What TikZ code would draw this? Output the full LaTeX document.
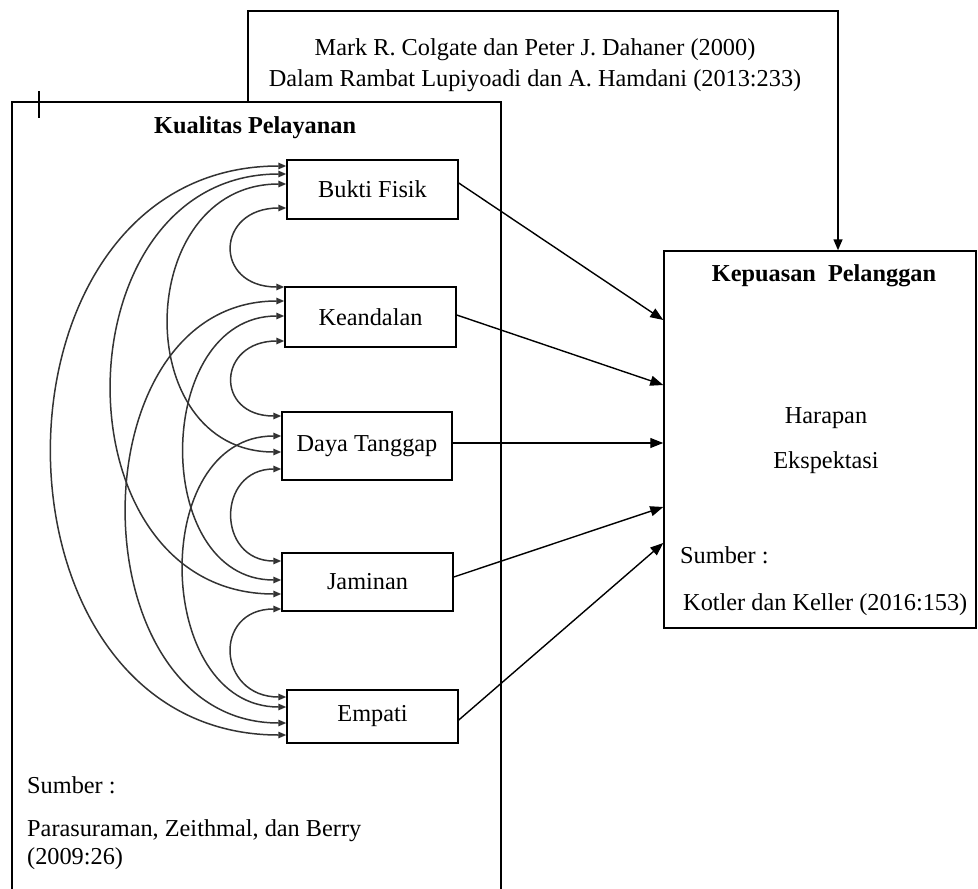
\documentclass[tikz,border=0pt]{standalone}
\usepackage{fontspec}
\setmainfont{Liberation Serif}
\usetikzlibrary{arrows.meta,calc}
\tikzset{
  box/.style={draw, line width=1.5pt, inner sep=0pt, font=\fontsize{24.3}{29}\selectfont},
  txt/.style={inner sep=0pt, font=\fontsize{24.3}{29}\selectfont},
  btxt/.style={inner sep=0pt, font=\fontsize{24.3}{29}\selectfont\bfseries},
  frame/.style={line width=1.5pt},
  arcline/.style={line width=1.5pt, black!80, {Triangle[length=8pt,width=6.5pt]}-{Triangle[length=8pt,width=6.5pt]}},
  infl/.style={line width=1.4pt, -{Triangle[length=13pt,width=10pt]}},
}
\newcommand{\twoarc}[5]{\draw[arcline] ([yshift=#2pt]#1.west) .. controls +(-#5,0) and +(-#5,0) .. ([yshift=#4pt]#3.west);}
\begin{document}
\begin{tikzpicture}[x=1pt,y=-1pt]
\useasboundingbox (0,0) rectangle (978,889);

% left frame
\coordinate (lbl) at (12,889);
\coordinate (ltl) at (12,102);
\coordinate (ltr) at (501,102);
\coordinate (lbr) at (501,889);
\draw[frame] (lbl) -- (ltl) -- (ltr) -- (lbr);
\coordinate (tk1) at (39,91);
\coordinate (tk2) at (39,118);
\draw[frame] (tk1) -- (tk2);

% right box
\node[box, minimum width=312pt, minimum height=377pt] (kp) at (820,439.5) {};

% top frame with arrow
\coordinate (tbl) at (248,102);
\coordinate (ttl) at (248,11);
\coordinate (ttr) at (838,11);
\draw[frame, -{Triangle[length=11pt,width=9pt]}] (tbl) -- (ttl) -- (ttr) -- (ttr |- kp.north);

% top texts
\node[txt, anchor=base] (src1) at (535,55) {Mark R. Colgate dan Peter J. Dahaner (2000)};
\node[txt, anchor=base] (src2) at (535,86) {Dalam Rambat Lupiyoadi dan A. Hamdani (2013:233)};

% left box texts
\node[btxt, anchor=base west] (kq) at (154,133) {Kualitas Pelayanan};
\node[txt, anchor=base west] (sb1) at (27,793) {Sumber :};
\node[txt, anchor=base west] (sb2) at (27,836) {Parasuraman,\ Zeithmal,\ dan Berry};
\node[txt, anchor=base west] (sb3) at (27,864) {(2009:26)};

% right box texts
\node[btxt, anchor=base] (kpt) at (824,281) {Kepuasan\ \ Pelanggan};
\node[txt, anchor=base] (hr) at (826,423) {Harapan};
\node[txt, anchor=base] (ek) at (826,468) {Ekspektasi};
\node[txt, anchor=base west] (sb4) at (680,563) {Sumber :};
\node[txt, anchor=base west] (sb5) at (683,610) {Kotler dan Keller (2016:153)};

% dimension boxes
\node[box, minimum width=171pt, minimum height=59pt] (bf) at (372.5,189.5) {Bukti Fisik};
\node[box, minimum width=171pt, minimum height=60pt] (kd) at (370.5,317) {Keandalan};
\node[box, minimum width=170pt, minimum height=68pt] (dt) at (367,446) {\raisebox{4pt}{Daya Tanggap}};
\node[box, minimum width=171pt, minimum height=58pt] (jm) at (367.5,582) {Jaminan};
\node[box, minimum width=171pt, minimum height=53pt] (em) at (372.5,716.5) {Empati};

% arrows to Kepuasan Pelanggan
\draw[infl] ([yshift=6.5pt]bf.east) -- ([yshift=119.5pt]kp.west);
\draw[infl] ([yshift=2pt]kd.east) -- ([yshift=54.5pt]kp.west);
\draw[infl] ([yshift=3pt]dt.east) -- ([yshift=-3.5pt]kp.west);
\draw[infl] ([yshift=5pt]jm.east) -- ([yshift=-67.5pt]kp.west);
\draw[infl] ([yshift=-3.5pt]em.east) -- ([yshift=-103.5pt]kp.west);

% correlation arcs
\twoarc{bf}{23.5}{em}{-18.5}{312}
\twoarc{bf}{15.5}{jm}{-12}{229}
\twoarc{bf}{5.5}{dt}{-6}{153}
\twoarc{bf}{-18.5}{kd}{30}{71}
\twoarc{kd}{16}{em}{-6.5}{211}
\twoarc{kd}{1}{jm}{2}{131}
\twoarc{kd}{-24}{dt}{30}{67}
\twoarc{dt}{10}{em}{9.5}{133}
\twoarc{dt}{-23}{jm}{21}{65}
\twoarc{jm}{-27}{em}{19.5}{69}
\end{tikzpicture}
\end{document}
